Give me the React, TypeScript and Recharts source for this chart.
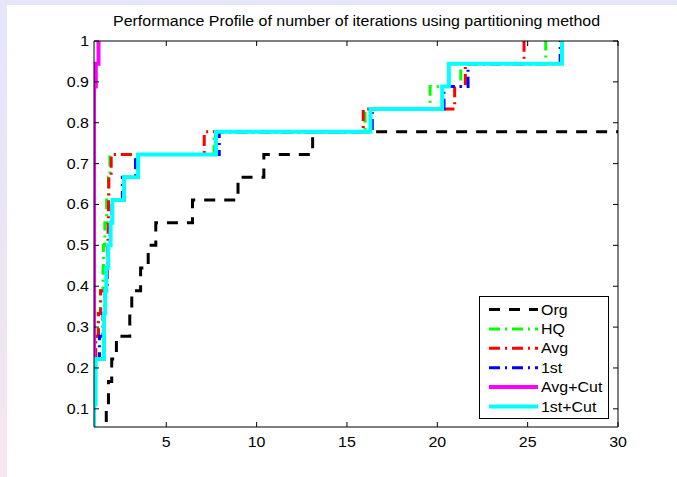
import React from 'react';
import { LineChart, Line, XAxis, YAxis, Legend } from 'recharts';

// Number of test problems behind each profile (rho = solved / N_PROBLEMS)
const N_PROBLEMS = 18;

const xTicks = [5, 10, 15, 20, 25, 30];
const yTicks = [0.1, 0.2, 0.3, 0.4, 0.5, 0.6, 0.7, 0.8, 0.9, 1];

// Performance ratio (tau) breakpoints and number of problems solved within tau
const orgTau = [1, 1.6, 1.68, 1.8, 1.98, 2.24, 2.98, 3.09, 3.58, 4.0, 4.42, 6.45, 8.97, 10.4, 13.1, 30];
const orgSolved = [0, 1, 2, 3, 4, 5, 6, 7, 8, 9, 10, 11, 12, 13, 14, 14];

const hqTau = [1, 1, 1.1, 1.22, 1.35, 1.5, 1.52, 1.6, 1.7, 1.8, 1.88, 7.65, 16.0, 19.6, 21.3, 26.0];
const hqSolved = [0, 4, 5, 6, 7, 8, 9, 10, 11, 12, 13, 14, 15, 16, 17, 18];

const avgTau = [1, 1, 1.09, 1.25, 1.37, 1.74, 1.76, 1.78, 1.8, 1.82, 1.95, 7.1, 15.9, 20.96, 21.55, 24.8];
const avgSolved = [0, 4, 5, 6, 7, 8, 9, 10, 11, 12, 13, 14, 15, 16, 17, 18];

const firstTau = [1, 1, 1.04, 1.3, 1.5, 1.62, 1.7, 1.8, 1.9, 2.0, 2.57, 3.3, 7.93, 16.4, 20.37, 21.7, 26.8];
const firstSolved = [0, 3, 4, 5, 6, 7, 8, 9, 10, 11, 12, 13, 14, 15, 16, 17, 18];

const avgCutTau = [1, 1, 1.1, 1.25];
const avgCutSolved = [0, 16, 17, 18];

const firstCutTau = [1, 1, 1.09, 1.55, 1.62, 1.68, 1.79, 1.92, 2.02, 2.66, 3.44, 7.75, 16.3, 20.27, 20.64, 26.9];
const firstCutSolved = [0, 2, 4, 6, 7, 8, 9, 10, 11, 12, 13, 14, 15, 16, 17, 18];

const toPoints = (tau: number[], solved: number[]) =>
  tau.map((t, i) => ({ tau: t, rho: solved[i] / N_PROBLEMS }));

type Series = {
  name: string;
  data: { tau: number; rho: number }[];
  color: string;
  width: number;
  dash?: string;
};

const series: Series[] = [
  { name: 'Org', data: toPoints(orgTau, orgSolved), color: '#000000', width: 3, dash: '11 9' },
  { name: 'HQ', data: toPoints(hqTau, hqSolved), color: '#00FF00', width: 3, dash: '11 5 2 5' },
  { name: 'Avg', data: toPoints(avgTau, avgSolved), color: '#FF0000', width: 3, dash: '11 5 2 5' },
  { name: '1st', data: toPoints(firstTau, firstSolved), color: '#0000FF', width: 3, dash: '11 5 2 5' },
  { name: 'Avg+Cut', data: toPoints(avgCutTau, avgCutSolved), color: '#FF00FF', width: 4 },
  { name: '1st+Cut', data: toPoints(firstCutTau, firstCutSolved), color: '#00FFFF', width: 4 },
];

const FONT = "'Liberation Sans', Arial, Helvetica, sans-serif";
const FONT_SIZE = 14;
const SX = 1.14; // horizontal stretch of the figure's lettering
const TICK = 5;

const BottomTick = (props: any) => {
  const { x, y, payload } = props;
  return (
    <g>
      <line x1={x} x2={x} y1={y} y2={y - TICK} stroke="#000" strokeWidth={1} />
      <text
        transform={`translate(${x},${y + 20}) scale(${SX},1)`}
        textAnchor="middle"
        fontFamily={FONT}
        fontSize={FONT_SIZE}
        fill="#000"
      >
        {payload.value}
      </text>
    </g>
  );
};

const TopTick = (props: any) => {
  const { x, y } = props;
  return <line x1={x} x2={x} y1={y} y2={y + TICK} stroke="#000" strokeWidth={1} />;
};

const LeftTick = (props: any) => {
  const { x, y, payload } = props;
  const v = payload.value as number;
  const label = Math.abs(v - 1) < 1e-9 ? '1' : v.toFixed(1);
  return (
    <g>
      <line x1={x} x2={x + TICK} y1={y} y2={y} stroke="#000" strokeWidth={1} />
      <text
        transform={`translate(${x - 5},${y + 5}) scale(${SX},1)`}
        textAnchor="end"
        fontFamily={FONT}
        fontSize={FONT_SIZE}
        fill="#000"
      >
        {label}
      </text>
    </g>
  );
};

const RightTick = (props: any) => {
  const { x, y } = props;
  return <line x1={x} x2={x - TICK} y1={y} y2={y} stroke="#000" strokeWidth={1} />;
};

const LEGEND_W = 130;
const LEGEND_H = 123;
const ROW_H = 19.4;

const LegendBox = () => (
  <svg width={LEGEND_W} height={LEGEND_H} style={{ display: 'block' }}>
    <rect x={0.5} y={0.5} width={LEGEND_W - 1} height={LEGEND_H - 1} fill="#fff" stroke="#000" strokeWidth={1} />
    {series.map((s, i) => {
      const cy = 13.5 + i * ROW_H;
      return (
        <g key={s.name}>
          <line
            x1={10}
            x2={59}
            y1={cy}
            y2={cy}
            stroke={s.color}
            strokeWidth={s.width}
            strokeDasharray={s.dash}
          />
          <text
            transform={`translate(62,${cy + 5}) scale(${SX},1)`}
            fontFamily={FONT}
            fontSize={FONT_SIZE}
            fill="#000"
          >
            {s.name}
          </text>
        </g>
      );
    })}
  </svg>
);

export default function App() {
  return (
    <div
      style={{
        position: 'absolute',
        left: 0,
        top: 0,
        width: 677,
        height: 477,
        background: 'linear-gradient(to bottom, #E6E6FA 0%, #E9E5F6 45%, #F8E6EE 100%)',
        overflow: 'hidden',
      }}
    >
      <div
        style={{
          position: 'absolute',
          left: 7,
          top: 5,
          width: 670,
          height: 472,
          background: '#fff',
        }}
      />
      <div
        style={{
          position: 'absolute',
          left: 0,
          top: 13,
          width: 713,
          textAlign: 'center',
          fontFamily: FONT,
          fontSize: FONT_SIZE,
          color: '#000',
          lineHeight: '16px',
          whiteSpace: 'nowrap',
          transform: `scale(${SX},1)`,
          transformOrigin: '356px 0',
        }}
      >
        Performance Profile of number of iterations using partitioning method
      </div>
      <div style={{ position: 'absolute', left: 0, top: 0 }}>
        <LineChart
          width={677}
          height={477}
          margin={{ top: 31, right: 49, bottom: 20, left: 34 }}
        >
          <XAxis
            dataKey="tau"
            type="number"
            domain={[1, 30]}
            allowDataOverflow
            ticks={xTicks}
            interval={0}
            height={30}
            tickSize={0}
            tickMargin={0}
            tickLine={false}
            axisLine={{ stroke: '#000', strokeWidth: 1 }}
            tick={BottomTick}
          />
          <XAxis
            xAxisId="top"
            orientation="top"
            dataKey="tau"
            type="number"
            domain={[1, 30]}
            allowDataOverflow
            ticks={xTicks}
            interval={0}
            height={10}
            tickSize={0}
            tickMargin={0}
            tickLine={false}
            axisLine={{ stroke: '#000', strokeWidth: 1 }}
            tick={TopTick}
          />
          <YAxis
            type="number"
            domain={[1 / N_PROBLEMS, 1]}
            allowDataOverflow
            ticks={yTicks}
            interval={0}
            width={60}
            tickSize={0}
            tickMargin={0}
            tickLine={false}
            axisLine={{ stroke: '#000', strokeWidth: 1 }}
            tick={LeftTick}
          />
          <YAxis
            yAxisId="right"
            orientation="right"
            type="number"
            domain={[1 / N_PROBLEMS, 1]}
            allowDataOverflow
            ticks={yTicks}
            interval={0}
            width={10}
            tickSize={0}
            tickMargin={0}
            tickLine={false}
            axisLine={{ stroke: '#000', strokeWidth: 1 }}
            tick={RightTick}
          />
          {series.map((s) => (
            <Line
              key={s.name}
              name={s.name}
              data={s.data}
              dataKey="rho"
              type="stepAfter"
              stroke={s.color}
              strokeWidth={s.width}
              strokeDasharray={s.dash}
              dot={false}
              activeDot={false}
              isAnimationActive={false}
            />
          ))}
          <Legend
            layout="vertical"
            align="center"
            verticalAlign="middle"
            wrapperStyle={{ left: 479, top: 296, width: LEGEND_W, height: LEGEND_H }}
            content={() => <LegendBox />}
          />
        </LineChart>
      </div>
    </div>
  );
}
